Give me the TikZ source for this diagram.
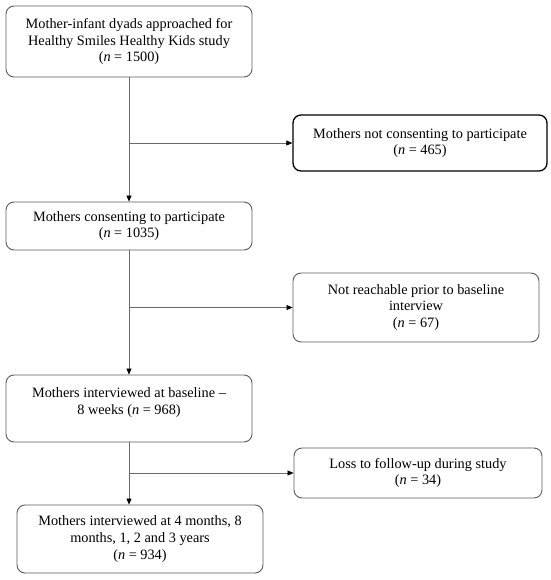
\documentclass[tikz,border=0pt]{standalone}
\usepackage{fontspec}
\setmainfont{Liberation Serif}
\usetikzlibrary{arrows.meta}
\definecolor{edgegray}{HTML}{5A5A5A}
\definecolor{linegray}{HTML}{6A6A6A}
\begin{document}
\begin{tikzpicture}[x=1pt,y=-1pt,
  box/.style={draw=edgegray, line width=0.9pt, rounded corners=8pt, align=center,
    inner sep=0pt, font=\fontsize{14.3}{16.8}\selectfont},
  boldbox/.style={box, draw=black, line width=1.3pt},
  txt/.style={align=center, inner sep=0pt, font=\fontsize{14.3}{16.8}\selectfont},
  conn/.style={draw=linegray, line width=0.7pt},
  arr/.style={conn, -{Triangle[length=6pt,width=5pt,color=black]}}]
\useasboundingbox (0,0) rectangle (550,580);
\node[box, minimum width=246, minimum height=71] (b1) at (129,41.5)
  {Mother-infant dyads approached for\\Healthy Smiles Healthy Kids study\\(\textit{n} = 1500)};
\node[boldbox, minimum width=254, minimum height=56] (bn1) at (420,143)
  {Mothers not consenting to participate\\(\textit{n} = 465)};
\node[box, minimum width=246, minimum height=48] (b2) at (129,226)
  {Mothers consenting to participate\\(\textit{n} = 1035)};
\node[box, minimum width=246, minimum height=69] (bn2) at (416,307.5)
  {Not reachable prior to baseline\\interview\\(\textit{n} = 67)};
\node[box, minimum width=246, minimum height=67] (b3) at (129,408.5) {};
\node[txt] (b3t) at (129,402.5) {Mothers interviewed at baseline –\\8 weeks (\textit{n} = 968)};
\node[box, minimum width=248, minimum height=50] (bn3) at (418,473)
  {Loss to follow-up during study\\(\textit{n} = 34)};
\node[box, minimum width=246, minimum height=68] (b4) at (140,539)
  {Mothers interviewed at 4 months, 8\\months, 1, 2 and 3 years\\(\textit{n} = 934)};
\coordinate (j1) at (b1.south |- bn1.west);
\coordinate (j2) at (b2.south |- bn2.west);
\coordinate (j3) at (b3.south |- bn3.west);
\draw[arr] (b1.south) -- (b1.south |- b2.north);
\draw[arr] (j1) -- (bn1.west);
\draw[arr] (b2.south) -- (b2.south |- b3.north);
\draw[arr] (j2) -- (bn2.west);
\draw[arr] (b3.south) -- (b3.south |- b4.north);
\draw[arr] (j3) -- (bn3.west);
\end{tikzpicture}
\end{document}
